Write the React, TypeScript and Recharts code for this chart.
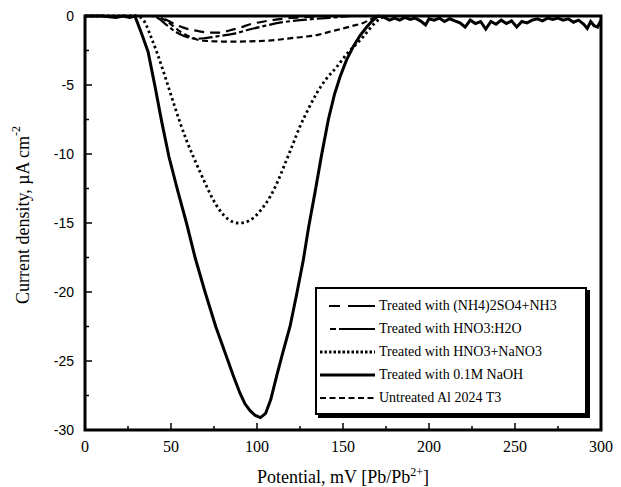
import { LineChart, Line, XAxis, YAxis, ReferenceArea, Legend } from "recharts";

// potential (mV) and current density (uA cm-2)
const naohX = [0, 10, 18, 22, 26, 29, 33, 36.7, 40.7, 44.5, 48.8, 54, 59, 64, 69.8, 76, 82.6, 86, 90, 93, 96, 99, 102, 105, 108, 111.4, 115, 119.2, 123, 126.9, 130, 133.7, 137.5, 141.5, 145, 148.3, 152, 156, 160, 163.8, 167, 170.5,
  174, 177, 180, 183, 186, 189, 192, 195, 198, 200, 203, 206, 209, 212, 215, 218, 221, 224, 227, 230, 233, 236, 239, 242, 245, 248, 251, 254, 257, 260, 263, 266, 269, 272, 275, 278, 281, 284, 287, 290, 292, 294, 296, 298, 300];
const naohY = [0, 0, -0.1, 0, -0.1, 0, -1.3, -2.6, -5.1, -7.6, -10.2, -12.7, -15, -17.5, -20, -22.5, -24.8, -26, -27.3, -28.1, -28.6, -28.95, -29.1, -28.8, -27.8, -26.1, -24.4, -22.5, -20.2, -17.7, -15.3, -12.8, -10.1, -7.5, -5.7, -4.4, -3.2, -2.2, -1.4, -0.8, -0.35, 0,
  -0.1, -0.3, -0.15, -0.3, -0.1, -0.25, -0.15, -0.35, -0.65, -0.2, -0.3, -0.15, -0.4, -0.2, -0.35, -0.5, -0.8, -0.3, -0.55, -0.4, -0.95, -0.4, -0.6, -0.3, -0.55, -0.35, -0.8, -0.4, -0.5, -0.3, -0.2, -0.35, -0.15, -0.25, -0.15, -0.3, -0.2, -0.45, -0.3, -0.6, -0.9, -0.4, -0.7, -0.8, -0.3];

const nitrateX = [0, 30, 34, 38, 41.7, 45, 48.4, 52, 55.2, 59, 63, 66.5, 69.8, 74, 78.5, 83, 89, 93, 96, 102, 107.6, 112, 116.3, 120.5, 125, 130, 134.7, 140, 146.3, 150, 154, 158, 161.8, 165, 168.6, 172, 175];
const nitrateY = [0, 0, -0.3, -1.4, -2.6, -3.8, -5.1, -6.5, -7.7, -9.0, -10.2, -11.2, -12.1, -13.2, -14.1, -14.7, -15.0, -14.95, -14.8, -14.1, -13.1, -12.0, -10.7, -9.4, -8.0, -6.7, -5.6, -4.6, -3.7, -3.1, -2.5, -2.0, -1.5, -1.0, -0.5, -0.15, 0];

const untreatedX = [0, 40, 45, 50, 55, 60, 65, 70, 80, 90, 100, 110, 120, 128, 134.7, 142, 150, 156, 161.8, 166, 170, 175];
const untreatedY = [0, 0, -0.2, -0.6, -1.1, -1.45, -1.7, -1.8, -1.85, -1.85, -1.82, -1.75, -1.6, -1.5, -1.38, -1.15, -0.9, -0.7, -0.5, -0.25, -0.05, 0];

const sulfateX = [0, 40, 45, 50, 55, 60, 66, 72, 78, 84, 90, 96, 104, 115, 125, 140];
const sulfateY = [0, 0, -0.15, -0.45, -0.75, -0.95, -1.1, -1.2, -1.2, -1.05, -0.85, -0.6, -0.4, -0.2, -0.1, 0];

const nitricX = [0, 38, 43, 47, 51, 55, 60, 65, 70, 78, 86, 95, 105, 115, 125, 135, 145, 155];
const nitricY = [0, 0, -0.2, -0.6, -1.0, -1.3, -1.55, -1.65, -1.6, -1.45, -1.3, -1.0, -0.7, -0.45, -0.3, -0.2, -0.1, 0];

const xTicks = [0, 25, 50, 75, 100, 125, 150, 175, 200, 225, 250, 275, 300];
const yTicks = [0, -2.5, -5, -7.5, -10, -12.5, -15, -17.5, -20, -22.5, -25, -27.5, -30];

const pts = (xs: number[], ys: number[]) => xs.map((x, i) => ({ x, y: ys[i] }));

const series = [
  { name: "Treated with (NH4)2SO4+NH3", data: pts(sulfateX, sulfateY), dash: "10 6", width: 2.2, lx: 12, ldash: "11 8 18 0" },
  { name: "Treated with HNO3:H2O", data: pts(nitricX, nitricY), dash: "14 3 4 3", width: 2.2, lx: 13, ldash: "6 3 32 0" },
  { name: "Treated with HNO3+NaNO3", data: pts(nitrateX, nitrateY), dash: "2.5 3", width: 2.8, lx: 3, ldash: "2.5 2" },
  { name: "Treated with 0.1M NaOH", data: pts(naohX, naohY), dash: undefined, width: 3, lx: 3, ldash: undefined },
  { name: "Untreated Al 2024 T3", data: pts(untreatedX, untreatedY), dash: "6 3.5", width: 2.2, lx: 3, ldash: "6 3.5" },
];

const serif = "'Liberation Serif', 'Times New Roman', serif";
const sans = "'Liberation Sans', Arial, sans-serif";

const BottomTick = (p: any) => {
  const v = p.payload.value;
  const major = v % 50 === 0;
  return (
    <g>
      <line x1={p.x} x2={p.x} y1={p.y} y2={p.y - (major ? 7 : 4)} stroke="#000" strokeWidth={1.5} />
      {major && (
        <text x={p.x} y={p.y + 22} textAnchor="middle" style={{ fontFamily: serif, fontSize: 16 }} fill="#000">
          {v}
        </text>
      )}
    </g>
  );
};

const TopTick = (p: any) => {
  const major = p.payload.value % 50 === 0;
  return <line x1={p.x} x2={p.x} y1={p.y} y2={p.y + (major ? 7 : 4)} stroke="#000" strokeWidth={1.5} />;
};

const LeftTick = (p: any) => {
  const v = p.payload.value;
  const major = v % 5 === 0;
  return (
    <g>
      <line x1={p.x} x2={p.x + (major ? 7 : 4)} y1={p.y} y2={p.y} stroke="#000" strokeWidth={1.5} />
      {major && (
        <text x={p.x - 11} y={p.y + 5} textAnchor="end" style={{ fontFamily: sans, fontSize: 14 }} fill="#000">
          {v}
        </text>
      )}
    </g>
  );
};

const RightTick = (p: any) => {
  const major = p.payload.value % 5 === 0;
  return <line x1={p.x} x2={p.x - (major ? 7 : 4)} y1={p.y} y2={p.y} stroke="#000" strokeWidth={1.5} />;
};

const XLabel = (p: any) => {
  const vb = p.viewBox;
  return (
    <text x={vb.x + vb.width / 2} y={vb.y + 53} textAnchor="middle" style={{ fontFamily: serif, fontSize: 18 }} fill="#000">
      Potential, mV [Pb/Pb<tspan dy={-7} style={{ fontSize: 12 }}>2+</tspan><tspan dy={7}>]</tspan>
    </text>
  );
};

const YLabel = (p: any) => {
  const vb = p.viewBox;
  const cx = vb.x - 2;
  const cy = vb.y + vb.height / 2 - 8;
  return (
    <text x={cx} y={cy} transform={`rotate(-90, ${cx}, ${cy})`} textAnchor="middle" dominantBaseline="central" style={{ fontFamily: serif, fontSize: 18 }} fill="#000">
      Current density, µA cm<tspan dy={-7} style={{ fontSize: 12 }}>-2</tspan>
    </text>
  );
};

const LegendBox = () => (
  <div
    style={{
      border: "2px solid #000",
      boxShadow: "3px 3px 0 #000",
      background: "#fff",
      padding: "5px 0 4px 0",
      width: 268,
      fontFamily: serif,
      fontSize: 14,
      color: "#000",
    }}
  >
    {series.map((s) => (
      <div key={s.name} style={{ display: "flex", alignItems: "center", height: 23 }}>
        <svg width={60} height={10} style={{ flex: "none" }}>
          <line x1={s.lx} x2={58} y1={5} y2={5} stroke="#000" strokeWidth={s.width} strokeDasharray={s.ldash} />
        </svg>
        <span style={{ marginLeft: 2, whiteSpace: "nowrap" }}>{s.name}</span>
      </div>
    ))}
  </div>
);

export default function App() {
  return (
    <div style={{ position: "absolute", left: 0, top: 0, width: 621, height: 487, background: "#fff" }}>
      <LineChart width={621} height={487} margin={{ top: 15, right: 19, bottom: 17, left: 25 }}>
        <XAxis
          dataKey="x"
          type="number"
          domain={[0, 300]}
          ticks={xTicks}
          interval={0}
          height={40}
          tickSize={0}
          tickMargin={0}
          tickLine={false}
          axisLine={false}
          tick={BottomTick}
          label={{ content: XLabel }}
        />
        <XAxis xAxisId="top" orientation="top" dataKey="x" type="number" domain={[0, 300]} ticks={xTicks} interval={0} height={1} tickSize={0} tickMargin={0} tickLine={false} axisLine={false} tick={TopTick} />
        <YAxis
          type="number"
          domain={[-30, 0]}
          ticks={yTicks}
          interval={0}
          width={60}
          tickSize={0}
          tickMargin={0}
          tickLine={false}
          axisLine={false}
          tick={LeftTick}
          label={{ content: YLabel }}
        />
        <YAxis yAxisId="right" orientation="right" type="number" domain={[-30, 0]} ticks={yTicks} interval={0} width={1} tickSize={0} tickMargin={0} tickLine={false} axisLine={false} tick={RightTick} />
        {series.map((s) => (
          <Line
            key={s.name}
            data={s.data}
            dataKey="y"
            name={s.name}
            type={s.name.includes("NaOH") ? "linear" : "monotone"}
            stroke="#000"
            strokeWidth={s.width}
            strokeDasharray={s.dash}
            dot={false}
            activeDot={false}
            isAnimationActive={false}
          />
        ))}
        <ReferenceArea x1={0} x2={300} y1={-30} y2={0} fill="none" stroke="#000" strokeWidth={3} />
        <Legend
          layout="vertical"
          align="center"
          verticalAlign="middle"
          content={LegendBox}
          wrapperStyle={{ left: 315, top: 287, width: 274 }}
        />
      </LineChart>
    </div>
  );
}
